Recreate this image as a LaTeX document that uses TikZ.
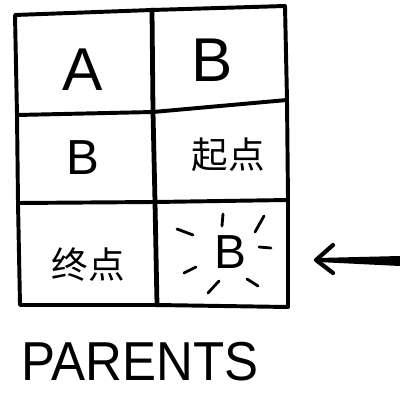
\documentclass[tikz,border=0pt]{standalone}
\usepackage{fontspec}
\setmainfont{Liberation Sans}
\newfontfamily\cjk{Noto Sans CJK SC}
\usetikzlibrary{calc}
\tikzset{
  grid/.style={line width=2.8pt},
  letter/.style={inner sep=0pt,font=\fontsize{#1}{#1}\selectfont},
  ray/.style={line width=2pt}
}
\begin{document}
\begin{tikzpicture}[x=0.025cm,y=-0.025cm,line cap=round,line join=round]
  \useasboundingbox (0,0) rectangle (400,393);
  % corners of the table
  \coordinate (TL) at (15,15);
  \coordinate (TM) at (152,10);
  \coordinate (TR) at (285,6);
  \coordinate (L1) at (17,115);
  \coordinate (M1) at (153,112);
  \coordinate (R1) at (287,100);
  \coordinate (L2) at (18,203);
  \coordinate (M2) at (155,202);
  \coordinate (R2) at (288,200);
  \coordinate (BL) at (20,305);
  \coordinate (BM) at (157,305);
  \coordinate (BR) at (288,307);
  \draw[grid] (TL) -- (TM) -- (TR) -- (R1) -- (R2) -- (BR) -- (BM) -- (BL) -- (L2) -- (L1) -- cycle;
  \draw[grid] (L1) -- (M1) -- (R1);
  \draw[grid] (L2) -- (M2) -- (R2);
  \draw[grid, line width=3.4pt] (TM) -- (M1) -- (M2) -- (BM);
  % cells
  \node[letter=43] (a) at (83,70) {A};
  \node[letter=44] (b1) at (212,60) {B};
  \node[letter=35] (b2) at (83,158) {B};
  \node[letter=26] (start) at (228,155) {\cjk 起点};
  \node[letter=26] (end) at (88,265) {\cjk 终点};
  \node[letter=34] (b3) at (230,252) {B};
  \foreach \xa/\ya/\xb/\yb in {223/214/222/226, 264/216/255/232, 259/247/271/248,
      247/279/258/286, 219/281/208/293, 184/273/196/267, 177/229/193/235}
    \draw[ray] (\xa,\ya) -- (\xb,\yb);
  % arrow
  \coordinate (tip) at (316,260);
  \coordinate (tail) at (400,261);
  \fill ($(tip)+(2,-2)$) -- ($(tail)+(0,-5)$) -- ($(tail)+(0,5)$) -- ($(tip)+(2,2)$) -- cycle;
  \draw[line width=3pt] (333,245) -- (tip) -- (333,273);
  \node[letter=39] (parents) at (140,362) {\scalebox{0.93}[1]{PARENTS}};
\end{tikzpicture}
\end{document}
